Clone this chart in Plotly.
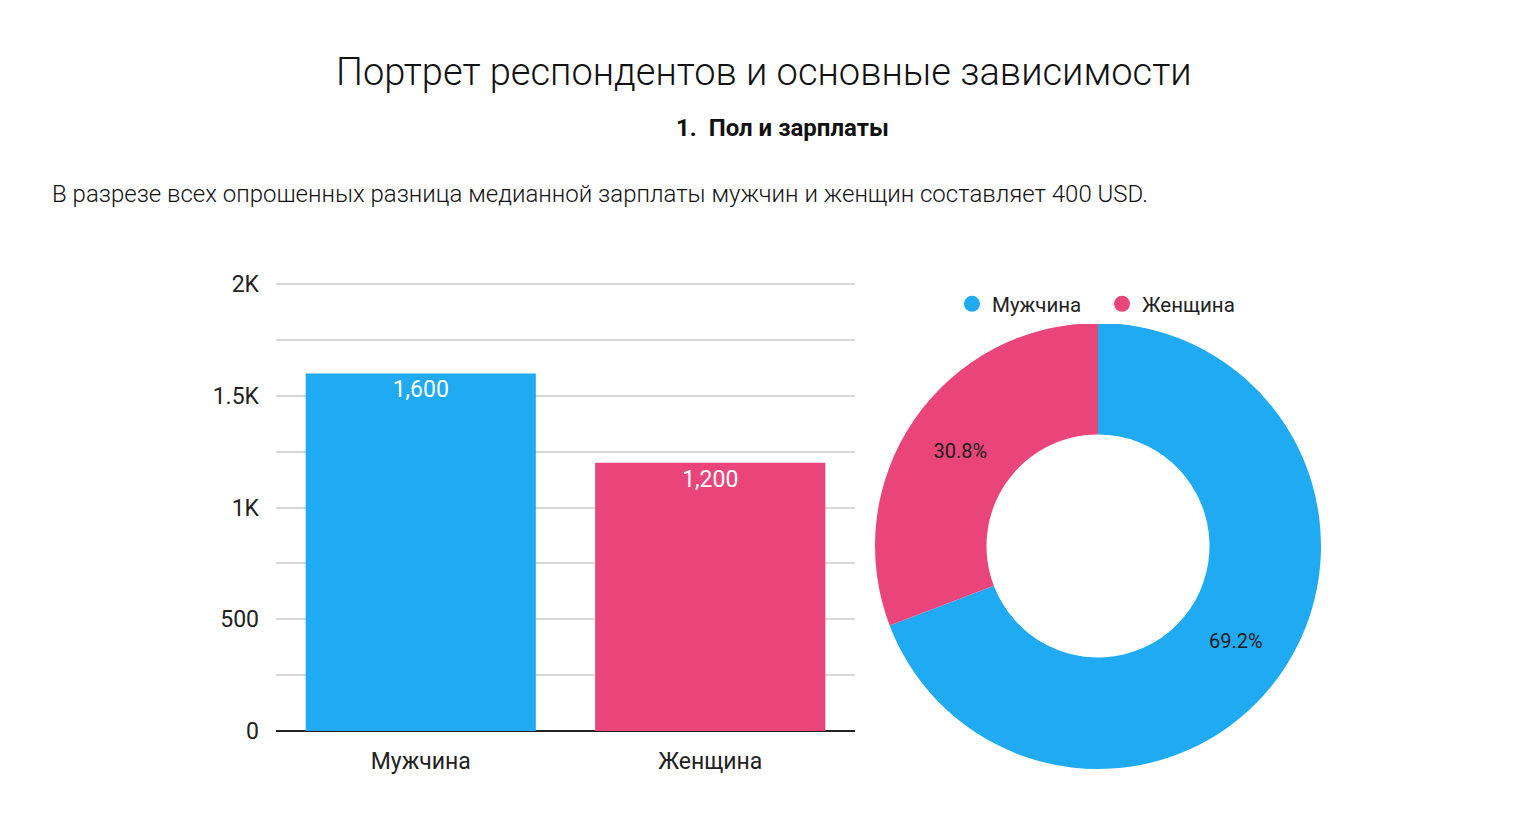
import plotly.graph_objects as go

categories = ["Мужчина", "Женщина"]
salaries = [1600, 1200]
shares = [69.2, 30.8]
bar_labels = ["1,600", "1,200"]
colors = ["#1faaf1", "#e9457a"]
ytick_vals = [0, 500, 1000, 1500, 2000]
ytick_text = ["0", "500", "1K", "1.5K", "2K"]

# pixel -> paper helpers (empirical page offset / effective paper height)
OX, OY, PW, PH = 8, 20, 1520, 791
def fx(X):
    return (X - OX) / PW
def fy(Y):
    return 1 - (Y - OY) / PH

fig = go.Figure()

fig.add_trace(go.Bar(
    x=categories, y=salaries, marker=dict(color=colors, line=dict(width=0)),
    text=bar_labels, textposition="inside", insidetextanchor="end",
    textfont=dict(color="white", size=23, family="Roboto"),
    width=0.795, showlegend=False, hoverinfo="x+y",
))

fig.add_trace(go.Pie(
    labels=categories, values=shares, hole=0.5, sort=False, direction="clockwise",
    rotation=0, marker=dict(colors=colors, line=dict(width=0)),
    texttemplate="%{value:.1f}%", textposition="inside",
    insidetextorientation="horizontal",
    textfont=dict(color="#1a1a1a", size=20, family="Roboto"),
    domain=dict(x=[fx(875), fx(1321)], y=[fy(770), fy(324)]),
    showlegend=False,
))

# legend entries with circular markers
for name, c in zip(categories, colors):
    fig.add_trace(go.Scatter(
        x=[None], y=[None], mode="markers", name=name,
        marker=dict(color=c, size=20, symbol="circle"), showlegend=True,
    ))

y_top = 2010
y0_px, y2k_px = 732, 285
px_per_unit = (y0_px - y2k_px) / 2000
top_px = y0_px - y_top * px_per_unit

fig.update_layout(
    width=1520, height=816,
    margin=dict(l=0, r=0, t=0, b=0),
    paper_bgcolor="white", plot_bgcolor="white",
    font=dict(family="Roboto", color="#222222"),
    bargap=0.205,
    xaxis=dict(domain=[fx(276), fx(855)], showgrid=False, showline=False,
               tickfont=dict(size=23, color="#222222"), ticks="",
               ticklabelstandoff=14),
    yaxis=dict(domain=[fy(y0_px), fy(top_px)], range=[0, y_top],
               tickvals=ytick_vals, ticktext=ytick_text,
               tickfont=dict(size=23, color="#222222"),
               gridcolor="#d9d9d9", gridwidth=1.5,
               minor=dict(dtick=250, showgrid=True, gridcolor="#d9d9d9", gridwidth=1.5),
               zeroline=True, zerolinecolor="#222222", zerolinewidth=2,
               ticks="", ticklabelstandoff=16, showline=False),
    legend=dict(orientation="h", x=fx(1102), xanchor="center", y=fy(305), yanchor="middle",
                font=dict(size=20.5, color="#222222"), itemwidth=30, traceorder="normal",
                itemsizing="trace", entrywidth=105, entrywidthmode="pixels"),
    annotations=[
        dict(text="Портрет респондентов и основные зависимости", x=fx(764), y=fy(73),
             showarrow=False,
             font=dict(size=38, family="Roboto", weight=300, color="#111111")),
        dict(text="1.  Пол и зарплаты", x=fx(782), y=fy(129),
             showarrow=False, font=dict(size=24, family="Roboto", weight=700, color="#111111")),
        dict(text="В разрезе всех опрошенных разница медианной зарплаты мужчин и женщин составляет 400 USD.",
             x=fx(50), y=fy(195), xanchor="left", showarrow=False,
             font=dict(size=24, family="Roboto", weight=300, color="#111111")),
    ],
)
for a in fig.layout.annotations:
    a.xref = "paper"
    a.yref = "paper"
    a.yanchor = "middle"

fig.write_html("out.html")
